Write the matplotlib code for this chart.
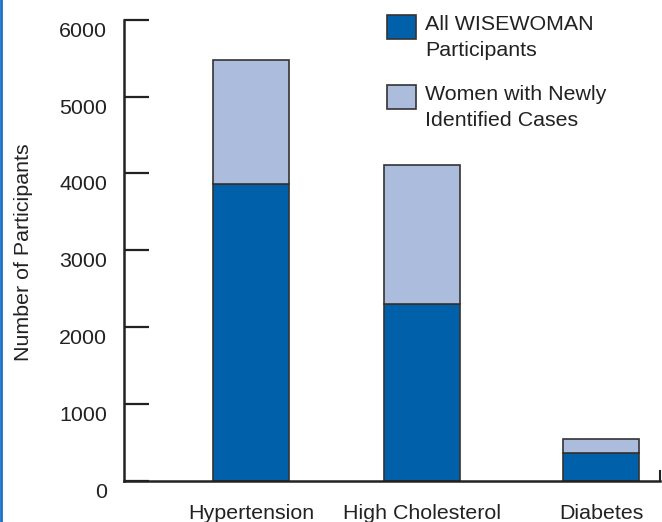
import numpy as np
import matplotlib.pyplot as plt
from matplotlib.patches import Rectangle
from matplotlib.lines import Line2D
import matplotlib.transforms as mtransforms

plt.rcParams['font.family'] = ['Liberation Sans', 'DejaVu Sans']

categories = ['Hypertension', 'High Cholesterol', 'Diabetes']
all_participants = [3860, 2300, 360]
newly_identified = [1610, 1815, 185]
y_ticks = [0, 1000, 2000, 3000, 4000, 5000, 6000]
legend_labels = ['All WISEWOMAN\nParticipants', 'Women with Newly\nIdentified Cases']

dark = '#0060aa'
light = '#abbcdd'
edge = '#333333'
txt = '#222222'
fs = 15.4

fig = plt.figure(figsize=(6.62, 5.22), dpi=100)
W, H = 662, 522
ax = fig.add_axes([123.7 / W, (H - 480.7) / H, (660 - 123.7) / W, (480.7 - 19.7) / H])

x = np.array([0, 1, 2.047])
width = 0.446
ax.bar(x, all_participants, width, color=dark, edgecolor=edge, linewidth=1.2)
ax.bar(x, newly_identified, width, bottom=all_participants, color=light,
       edgecolor=edge, linewidth=1.2)

ax.set_xlim(-0.744, 2.392)
ax.set_ylim(0, 6000)
ax.set_yticks(y_ticks)
ax.set_xticks(x)
ax.set_xticklabels(categories, fontsize=fs, color=txt)
ax.tick_params(axis='x', length=0, pad=17)
ax.tick_params(axis='y', direction='in', length=18, width=1.6, pad=12,
               labelsize=fs, colors=txt)

# tick labels sit a bit below their ticks in the original
offset = mtransforms.ScaledTranslation(0, -9.5 / 100, fig.dpi_scale_trans)
for lab in ax.get_yticklabels():
    lab.set_transform(lab.get_transform() + offset)

ax.spines['top'].set_visible(False)
for s in ['left', 'bottom']:
    ax.spines[s].set_linewidth(1.8)
    ax.spines[s].set_color(txt)
ax.spines['right'].set_bounds(0, 120)
ax.spines['right'].set_linewidth(1.5)
ax.spines['right'].set_color(txt)

ax.set_ylabel('Number of Participants', fontsize=fs, color=txt)
ax.yaxis.set_label_coords(-0.169, 0.496)

# legend drawn by hand
box_tops = [14.7, 84.7]
for i, (lab, col) in enumerate(zip(legend_labels, [dark, light])):
    y0 = box_tops[i]
    fig.add_artist(Rectangle((386.7 / W, 1 - (y0 + 24.6) / H), 29 / W, 24.6 / H,
                             facecolor=col, edgecolor=edge, linewidth=1.2,
                             transform=fig.transFigure))
    for j, line in enumerate(lab.split('\n')):
        base = y0 + 15.3 + j * 26
        fig.text(425 / W, 1 - base / H, line, fontsize=fs, color=txt,
                 va='baseline', ha='left')

# blue strip on the left edge
fig.add_artist(Line2D([1 / W, 1 / W], [0, 1], color='#1a70c8', linewidth=2,
                      transform=fig.transFigure))

fig.savefig('out.png', dpi=100)
